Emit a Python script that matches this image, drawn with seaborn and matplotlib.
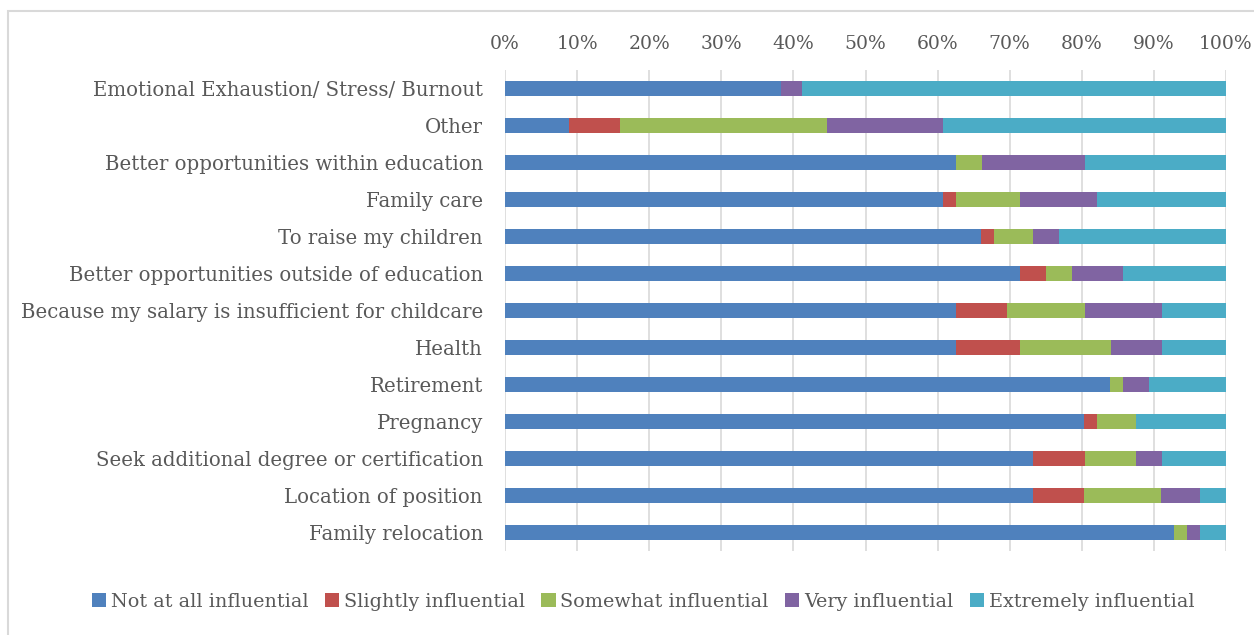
import matplotlib
matplotlib.use("Agg")
import matplotlib.pyplot as plt
import numpy as np
import pandas as pd
import seaborn as sns
from matplotlib.patches import Rectangle
from matplotlib.ticker import PercentFormatter

reasons = ["Emotional Exhaustion/ Stress/ Burnout", "Other",
           "Better opportunities within education", "Family care",
           "To raise my children", "Better opportunities outside of education",
           "Because my salary is insufficient for childcare", "Health",
           "Retirement", "Pregnancy", "Seek additional degree or certification",
           "Location of position", "Family relocation"]

# percent of respondents per reason
not_at_all = [38.2, 8.9, 62.5, 60.7, 66.1, 71.4, 62.5, 62.5, 83.9, 80.4, 73.2, 73.2, 92.9]
slightly   = [0.0, 7.1, 0.0, 1.8, 1.8, 3.6, 7.1, 8.9, 0.0, 1.8, 7.1, 7.1, 0.0]
somewhat   = [0.0, 28.6, 3.6, 8.9, 5.4, 3.6, 10.7, 12.5, 1.8, 5.4, 7.1, 10.7, 1.8]
very       = [2.9, 16.1, 14.3, 10.7, 3.6, 7.1, 10.7, 7.1, 3.6, 0.0, 3.6, 5.4, 1.8]
extremely  = [58.8, 39.3, 19.6, 17.9, 23.2, 14.3, 8.9, 8.9, 10.7, 12.5, 8.9, 3.6, 3.6]

levels = ["Not at all influential", "Slightly influential", "Somewhat influential",
          "Very influential", "Extremely influential"]
colors = ["#4F81BD", "#C0504D", "#9BBB59", "#8064A2", "#4BACC6"]

df = pd.DataFrame({"reason": reasons, levels[0]: not_at_all, levels[1]: slightly,
                   levels[2]: somewhat, levels[3]: very, levels[4]: extremely})
cum = df[levels].cumsum(axis=1)
cum = cum.div(cum[levels[-1]], axis=0) * 100

sns.set_style("white")
plt.rcParams["font.family"] = ["DejaVu Serif"]
text_col = "#595959"

fig = plt.figure(figsize=(12.54, 6.35), dpi=100)
ax = fig.add_axes([505 / 1254, 1 - 551 / 635, 721 / 1254, 481 / 635])

# stacked bars: draw cumulative totals from the top level down
for lev, col in reversed(list(zip(levels, colors))):
    sns.barplot(x=cum[lev], y=df["reason"], orient="h", color=col, width=0.4,
                saturation=1, edgecolor="none", ax=ax, label=lev, zorder=3)

ax.set_xlim(0, 100)
ax.set_xticks(np.arange(0, 101, 10))
ax.xaxis.set_major_formatter(PercentFormatter(decimals=0))
ax.xaxis.tick_top()
ax.grid(axis="x", color="#D9D9D9", linewidth=1.2, zorder=0)
ax.set_axisbelow(True)
for s in ax.spines.values():
    s.set_visible(False)
ax.set_xlabel("")
ax.set_ylabel("")
ax.tick_params(axis="x", length=0, pad=12, labelsize=13.5, labelcolor=text_col)
ax.tick_params(axis="y", length=0, pad=16, labelsize=14.2, labelcolor=text_col)

handles, labs = ax.get_legend_handles_labels()
order = [labs.index(l) for l in levels]
ax.legend([handles[i] for i in order], levels, loc="center", ncol=5,
          bbox_to_anchor=(643 / 1254, 1 - 602 / 635), bbox_transform=fig.transFigure,
          frameon=False, fontsize=13.8, labelcolor=text_col, handlelength=0.75,
          handleheight=0.75, handletextpad=0.25, columnspacing=0.85)

fig.patches.append(Rectangle((8 / 1254, -0.05), 1.2, 1 - 11 / 635 + 0.05,
                             transform=fig.transFigure, fill=False,
                             edgecolor="#D9D9D9", linewidth=1.5))

fig.savefig("out.png", dpi=100)
